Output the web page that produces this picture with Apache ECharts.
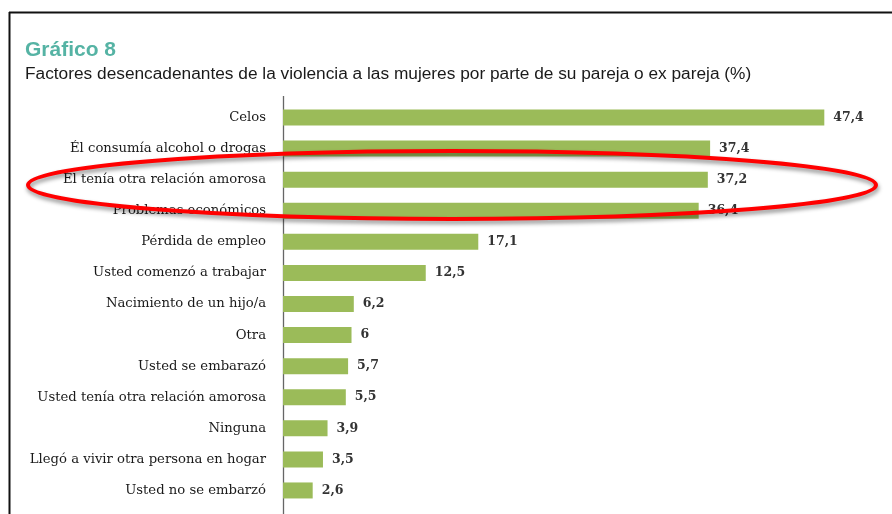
<!DOCTYPE html>
<html>
<head>
<meta charset="utf-8">
<script src="https://cdn.jsdelivr.net/npm/echarts@6/dist/echarts.min.js"></script>
<style>
html,body{margin:0;padding:0;background:#fff;}
#chart{width:892px;height:514px;}
</style>
</head>
<body>
<div id="chart"></div>
<script>
const categories = [
  "Celos",
  "Él consumía alcohol o drogas",
  "Él tenía otra relación amorosa",
  "Problemas económicos",
  "Pérdida de empleo",
  "Usted comenzó a trabajar",
  "Nacimiento de un hijo/a",
  "Otra",
  "Usted se embarazó",
  "Usted tenía otra relación amorosa",
  "Ninguna",
  "Llegó a vivir otra persona en hogar",
  "Usted no se embarzó"
];
const values = [47.4, 37.4, 37.2, 36.4, 17.1, 12.5, 6.2, 6, 5.7, 5.5, 3.9, 3.5, 2.6];
const titleText = "Gráfico 8";
const subtitleText = "Factores desencadenantes de la violencia a las mujeres por parte de su pareja o ex pareja (%)";

const chart = echarts.init(document.getElementById('chart'), null, {renderer: 'canvas'});
chart.setOption({
  backgroundColor: '#ffffff',
  animation: false,
  title: [
    {text: titleText, left: 20, top: 35,
     textStyle: {fontFamily: 'Liberation Sans', fontSize: 21, fontWeight: 'bold', color: '#55b3a4'}},
    {text: subtitleText, left: 20, top: 61,
     textStyle: {fontFamily: 'Liberation Sans', fontSize: 17.3, fontWeight: 'normal', color: '#1a1a1a'}}
  ],
  grid: {left: 283, top: 102, width: 571, height: 404, containLabel: false},
  xAxis: {
    type: 'value', min: 0, max: 50, show: false
  },
  yAxis: {
    type: 'category', data: categories, inverse: true,
    axisLine: {show: false},
    axisTick: {show: false},
    axisLabel: {margin: 17, fontFamily: 'DejaVu Serif', fontSize: 13.2, color: '#1a1a1a'}
  },
  series: [{
    type: 'bar', data: values, barWidth: 16,
    itemStyle: {color: '#9bbb59'},
    label: {
      show: true, position: 'right', distance: 9,
      fontFamily: 'DejaVu Serif', fontSize: 12.5, fontWeight: 'bold', color: '#333',
      formatter: p => String(p.value).replace('.', ',')
    }
  }],
  graphic: [
    {type: 'line', shape: {x1: 9.5, y1: 12, x2: 9.5, y2: 514}, style: {stroke: '#111', lineWidth: 2}},
    {type: 'line', shape: {x1: 9, y1: 12.5, x2: 892, y2: 12.5}, style: {stroke: '#111', lineWidth: 2}},
    {type: 'line', shape: {x1: 283.5, y1: 96, x2: 283.5, y2: 514}, style: {stroke: '#666', lineWidth: 1.3}},
    {type: 'ellipse', z: 100, shape: {cx: 452, cy: 185, rx: 424, ry: 34},
     style: {fill: 'none', stroke: '#ff0000', lineWidth: 4,
             shadowBlur: 4, shadowColor: 'rgba(0,0,0,0.45)', shadowOffsetX: 1, shadowOffsetY: 3}}
  ]
});
</script>
</body>
</html>
